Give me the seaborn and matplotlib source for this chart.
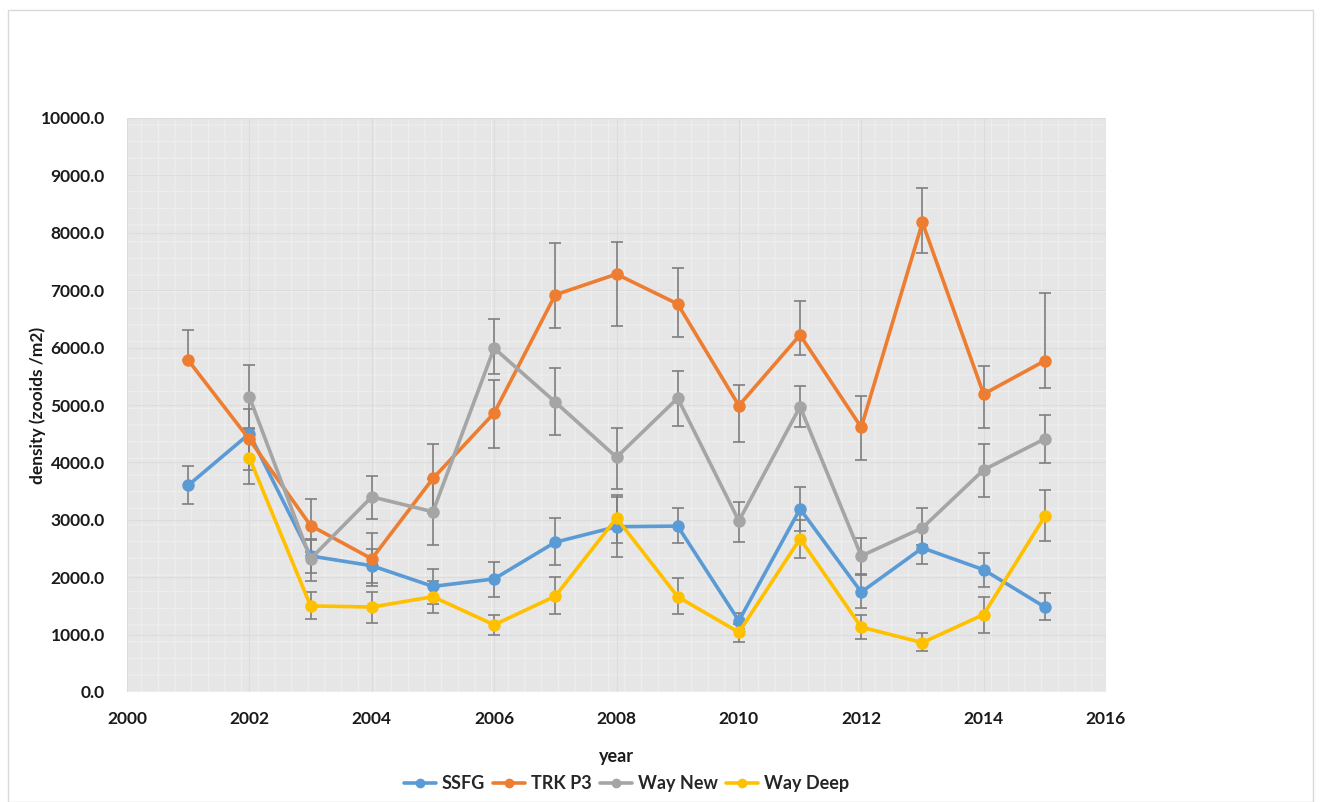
import numpy as np
import pandas as pd
import matplotlib
matplotlib.use("Agg")
import matplotlib.pyplot as plt
from matplotlib.patches import Rectangle
import seaborn as sns

# ---- data -------------------------------------------------------------
years = [2001, 2002, 2003, 2004, 2005, 2006, 2007, 2008,
         2009, 2010, 2011, 2012, 2013, 2014, 2015]
sites = ["SSFG", "TRK P3", "Way New", "Way Deep"]

ssfg = [3600, 4500, 2370, 2200, 1840, 1970, 2610, 2880,
        2890, 1240, 3190, 1740, 2510, 2130, 1480]
ssfg_up = [340, 100, 300, 300, 310, 300, 430, 520, 310, 140, 390, 300, 300, 300, 240]
ssfg_dn = [330, 100, 300, 300, 310, 310, 400, 530, 300, 140, 390, 270, 280, 300, 230]

trk = [5780, 4400, 2900, 2320, 3720, 4860, 6920, 7280,
       6760, 4990, 6220, 4610, 8180, 5190, 5770]
trk_up = [530, 530, 460, 450, 600, 580, 900, 560, 630, 360, 590, 540, 600, 490, 1180]
trk_dn = [0, 530, 460, 470, 610, 610, 580, 900, 580, 630, 350, 560, 540, 590, 470]

way_new = [np.nan, 5140, 2320, 3400, 3140, 5990, 5050, 4090,
           5120, 2980, 4970, 2370, 2860, 3870, 4410]
way_new_up = [0, 560, 330, 370, 575, 510, 590, 510, 470, 330, 360, 310, 340, 450, 420]
way_new_dn = [0, 560, 380, 380, 575, 450, 570, 550, 490, 370, 350, 320, 300, 470, 420]

way_deep = [np.nan, 4080, 1500, 1480, 1660, 1170, 1670, 3030,
            1660, 1040, 2670, 1130, 860, 1350, 3060]
way_deep_up = [0, 455, 250, 260, 280, 170, 330, 400, 330, 150, 330, 220, 170, 300, 460]
way_deep_dn = [0, 455, 230, 280, 280, 180, 310, 430, 300, 170, 330, 210, 150, 330, 430]

colors = ["#5B9BD5", "#ED7D31", "#A5A5A5", "#FFC000"]

# long-form table for seaborn
series = [ssfg, trk, way_new, way_deep]
df = pd.concat(
    [pd.DataFrame({"year": years, "density": vals, "site": name})
     for name, vals in zip(sites, series)],
    ignore_index=True,
)
errs = {
    "SSFG": (ssfg_dn, ssfg_up),
    "TRK P3": (trk_dn, trk_up),
    "Way New": (way_new_dn, way_new_up),
    "Way Deep": (way_deep_dn, way_deep_up),
}

# ---- figure -----------------------------------------------------------
sns.set_theme(style="white")
plt.rcParams["font.family"] = ["Lato", "DejaVu Sans"]
plt.rcParams["hatch.linewidth"] = 0.8

fig = plt.figure(figsize=(13.22, 8.02), dpi=100)
fig.patch.set_facecolor("white")
# outer chart frame
fig.patches.append(Rectangle((8 / 1322, 0.0), (1313 - 8) / 1322, 1 - 10 / 802,
                             transform=fig.transFigure, fill=False,
                             edgecolor="#d9d9d9", linewidth=1.0))

ax = fig.add_axes([127 / 1322, 1 - 692 / 802, (1106 - 127) / 1322, (692 - 118) / 802])
ax.set_facecolor("#e6e6e6")
# patterned fill of the plot area
ax.add_patch(Rectangle((0, 0), 1, 1, transform=ax.transAxes, facecolor="none",
                       edgecolor="#eeeeee", hatch="+", linewidth=0, zorder=0))

# error bars underneath the lines
df_valid = df.dropna()
for name in sites:
    sub = df[df["site"] == name]
    dn, up = errs[name]
    mask = sub["density"].notna().values
    ax.errorbar(np.array(years)[mask], sub["density"].values[mask],
                yerr=[np.array(dn)[mask], np.array(up)[mask]],
                fmt="none", ecolor="#7f7f7f", elinewidth=1.2, capsize=4,
                capthick=1.2, zorder=2)

sns.lineplot(data=df_valid, x="year", y="density", hue="site",
             hue_order=sites, palette=colors, marker="o", markersize=9,
             markeredgewidth=0, linewidth=2.6, ax=ax, zorder=3,
             legend=False, errorbar=None)

ax.set_xlim(2000, 2016)
ax.set_ylim(0, 10000)
ax.set_xticks(range(2000, 2017, 2))
ax.set_yticks(range(0, 10001, 1000))
ax.set_yticklabels([f"{v:.1f}" for v in range(0, 10001, 1000)])
ax.grid(True, color="#dcdcdc", linewidth=0.8, zorder=1)
ax.set_axisbelow(True)
for s in ax.spines.values():
    s.set_visible(False)

ax.tick_params(axis="both", length=0, labelsize=12.5, colors="#1a1a1a")
ax.tick_params(axis="x", pad=14)
ax.tick_params(axis="y", pad=16)
for lab in ax.get_xticklabels() + ax.get_yticklabels():
    lab.set_fontweight("bold")

ax.set_xlabel("year", fontsize=13, fontweight="bold", color="#1a1a1a", labelpad=15)
ax.set_ylabel("density (zooids /m2)", fontsize=12.5, fontweight="bold",
              color="#1a1a1a", va="center")
ax.yaxis.set_label_coords((38 - 127) / 979, 0.5)

handles = [plt.Line2D([], [], color=c, marker="o", markersize=7,
                      markeredgewidth=0, linewidth=2.6) for c in colors]
ax.legend(handles, sites, loc="center", bbox_to_anchor=(0.51, -0.16), ncol=4,
          frameon=False, handlelength=1.8, columnspacing=0.45, handletextpad=0.3,
          prop={"family": "Lato", "weight": "bold", "size": 13})

fig.savefig("out.png", dpi=100, facecolor="white")
